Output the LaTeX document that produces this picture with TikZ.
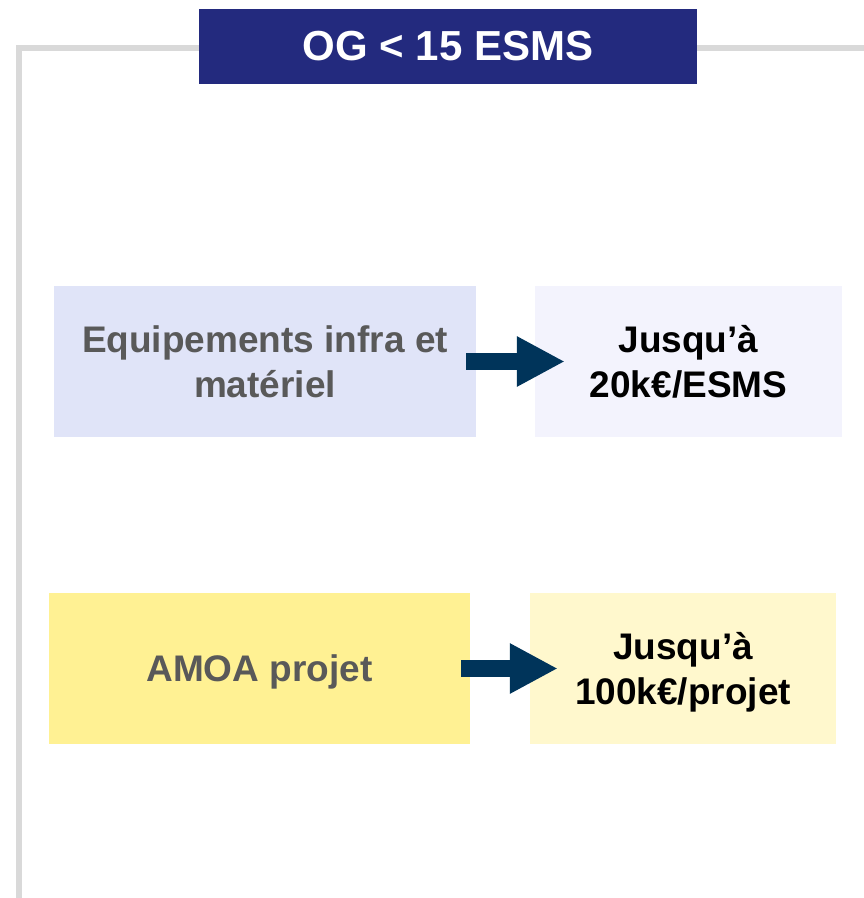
\documentclass[tikz,border=0pt]{standalone}
\usepackage{fontspec}
\setmainfont{Liberation Sans}
\usetikzlibrary{arrows.meta}

\definecolor{navy}{HTML}{232A7E}
\definecolor{arrowblue}{HTML}{00345A}
\definecolor{framegray}{HTML}{D9D9D9}
\definecolor{labelgray}{HTML}{595959}
\definecolor{lavender}{HTML}{E0E4F8}
\definecolor{lavenderlight}{HTML}{F3F3FD}
\definecolor{yellowbox}{HTML}{FFF193}
\definecolor{yellowlight}{HTML}{FFF8CD}

\begin{document}
\begin{tikzpicture}[x=1pt, y=-1pt,
                    font=\bfseries\fontsize{37}{45}\selectfont,
                    line join=miter]
    \tikzstyle{box}=[rectangle, minimum height=151pt, inner sep=0pt,
                     text depth=0pt, align=center]
    \tikzstyle{topic}=[box, text=labelgray]
    \tikzstyle{amount}=[box, text=black]
    \tikzstyle{bigarrow}=[draw=arrowblue, line width=17pt,
                          -{Triangle[width=47pt, length=48pt]}]

    \useasboundingbox (0,0) rectangle (864,898);

    % frame
    \coordinate (fbl) at (19,898);
    \coordinate (ftl) at (19,48);
    \coordinate (ftr) at (864,48);
    \draw[framegray, line width=6pt] (fbl) -- (ftl) -- (ftr);

    \node[fill=navy, text=white, minimum width=498pt, minimum height=75pt,
          inner sep=0pt, font=\bfseries\fontsize{42}{50}\selectfont]
          (title) at (448,46.5) {OG < 15 ESMS};

    \node[topic, fill=lavender, minimum width=422pt] (equip) at (265,361.5)
          {Equipements infra et\\matériel};
    \node[amount, fill=lavenderlight, minimum width=307pt] (equipval) at (688.5,361.5)
          {Jusqu’à\\20k€/ESMS};

    \node[topic, fill=yellowbox, minimum width=421pt] (amoa) at (259.5,668.5)
          {AMOA projet};
    \node[amount, fill=yellowlight, minimum width=306pt] (amoaval) at (683,668.5)
          {Jusqu’à\\100k€/projet};

    \draw[bigarrow, shorten <=-10pt, shorten >=-30pt] (equip.east) -- (equipval.west);
    \draw[bigarrow, shorten <=-9pt, shorten >=-28pt] (amoa.east) -- (amoaval.west);
\end{tikzpicture}
\end{document}
